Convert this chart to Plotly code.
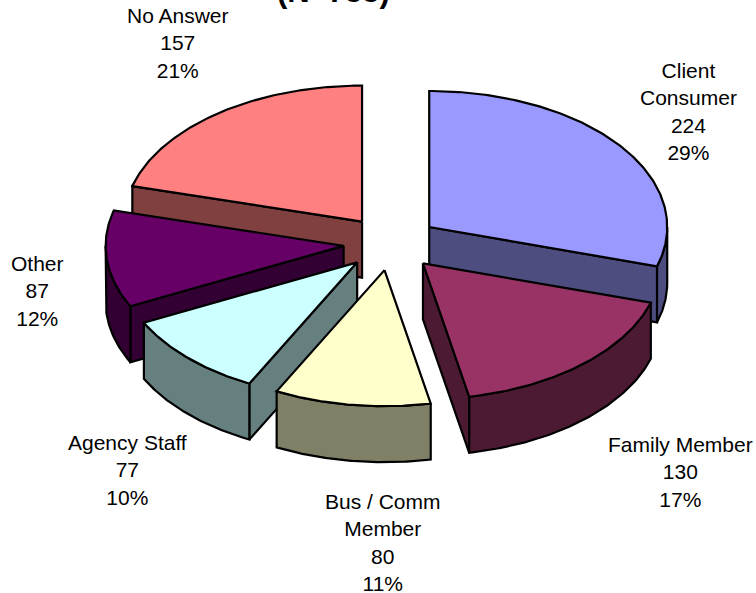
import numpy as np
import plotly.graph_objects as go

# Respondent counts, clockwise from twelve o'clock
categories = ["Client<br>Consumer", "Family Member", "Bus / Comm<br>Member",
              "Agency Staff", "Other", "No Answer"]
values = [224, 130, 80, 77, 87, 157]
percent_labels = ["29%", "17%", "11%", "10%", "12%", "21%"]

top_colors = ["#9999FF", "#993366", "#FFFFCC", "#CCFFFF", "#660066", "#FF8080"]
side_colors = ["#4D4D80", "#4D1A33", "#808066", "#668080", "#330033", "#804040"]

# Pie geometry in unit-radius coordinates
EXPLODE = 0.2
DEPTH = 0.412
PX_X, PX_Y = 238.0, 136.0      # pixels per unit on each axis
CENTER_PX = (391.0, 243.2)     # pie centre within the 756x593 page
WIDTH, HEIGHT = 756, 593
# Back-to-front painting order
DRAW_ORDER = [5, 4, 0, 1, 3, 2]

# Label centres in page pixels (x, y down)
label_centers = [(688, 111.5), (680, 472), (382.5, 542.5), (127, 470), (37, 291.5), (178, 43)]

total = sum(values)
bounds = np.concatenate([[0.0], np.cumsum(values) / total * 2 * np.pi])


def arc(a0, a1, n=80):
    t = np.linspace(a0, a1, max(2, int(n)))
    return np.sin(t), np.cos(t)


def add_polygon(fig, x, y, color):
    fig.add_trace(go.Scatter(
        x=np.append(x, x[0]), y=np.append(y, y[0]), mode="lines", fill="toself",
        fillcolor=color, line=dict(color="black", width=2.2),
        hoverinfo="skip", showlegend=False))


def add_radial_face(fig, ox, oy, angle, color):
    ex, ey = ox + np.sin(angle), oy + np.cos(angle)
    add_polygon(fig, np.array([ox, ex, ex, ox]),
                np.array([oy, ey, ey - DEPTH, oy - DEPTH]), color)


fig = go.Figure()
for i in DRAW_ORDER:
    a0, a1 = bounds[i], bounds[i + 1]
    mid = (a0 + a1) / 2
    ox, oy = EXPLODE * np.sin(mid), EXPLODE * np.cos(mid)

    # Radial walls turned towards the viewer
    if np.cos(a0 - np.pi / 2) < -1e-6:
        add_radial_face(fig, ox, oy, a0, side_colors[i])
    if np.cos(a1 + np.pi / 2) < -1e-6:
        add_radial_face(fig, ox, oy, a1, side_colors[i])

    # Outer rim: only the near half of the circle shows
    r0, r1 = max(a0, np.pi / 2), min(a1, 3 * np.pi / 2)
    if r1 > r0:
        sx, sy = arc(r0, r1)
        add_polygon(fig, np.concatenate([ox + sx, (ox + sx)[::-1]]),
                    np.concatenate([oy + sy, (oy + sy - DEPTH)[::-1]]), side_colors[i])

    # Top face
    tx, ty = arc(a0, a1, 40 + (a1 - a0) * 60)
    add_polygon(fig, np.concatenate([[ox], ox + tx]),
                np.concatenate([[oy], oy + ty]), top_colors[i])

annotations = []
for name, val, pct, (lx, ly) in zip(categories, values, percent_labels, label_centers):
    annotations.append(dict(
        x=lx / WIDTH, y=1 - ly / HEIGHT, xref="x domain", yref="y domain",
        text=f"{name}<br>{val}<br>{pct}", showarrow=False, align="center",
        xanchor="center", yanchor="middle",
        font=dict(family="Liberation Sans, Arial, sans-serif", size=21, color="black")))
# Lower line of the heading sits at the very top edge of the page
annotations.append(dict(
    x=333 / WIDTH, y=1 - 5 / HEIGHT, xref="x domain", yref="y domain",
    text="<b>(N=755)</b>", showarrow=False, xanchor="center", yanchor="bottom", yshift=-6,
    font=dict(family="Liberation Sans, Arial, sans-serif", size=31, color="black")))

fig.update_layout(
    width=WIDTH, height=HEIGHT, margin=dict(l=0, r=0, t=0, b=0),
    paper_bgcolor="white", plot_bgcolor="white", showlegend=False,
    annotations=annotations,
    xaxis=dict(range=[-CENTER_PX[0] / PX_X, (WIDTH - CENTER_PX[0]) / PX_X], visible=False,
               fixedrange=True),
    yaxis=dict(range=[-(HEIGHT - CENTER_PX[1]) / PX_Y, CENTER_PX[1] / PX_Y], visible=False,
               fixedrange=True),
)
fig.write_html("out.html", config={"displayModeBar": False})
